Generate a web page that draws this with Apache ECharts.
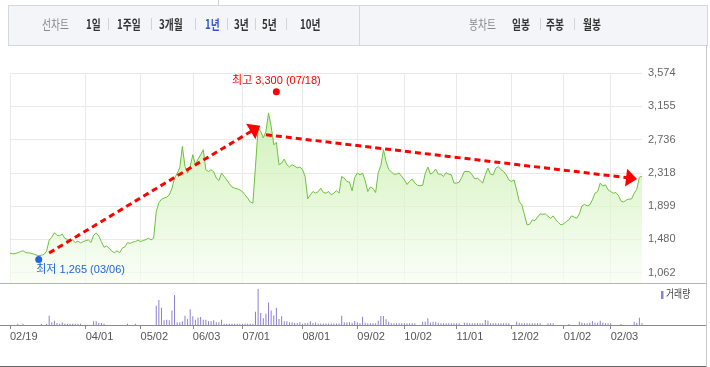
<!DOCTYPE html>
<html>
<head>
<meta charset="utf-8">
<script src="https://cdn.jsdelivr.net/npm/echarts@6/dist/echarts.min.js"></script>
<style>
body{margin:0;width:710px;height:367px;overflow:hidden;background:#fff;position:relative;font-family:'Noto Sans CJK KR',sans-serif}
#chart{position:absolute;left:0;top:0;width:710px;height:367px}
#tabs{position:absolute;left:8px;top:5px;width:698px;height:39px;background:#f4f5f8;border:1px solid #d6d8dd;z-index:2}
.t{position:absolute;top:4px;height:40px;line-height:40px;font-size:13px;white-space:nowrap;transform:scaleX(0.75);transform-origin:left center;color:#333;font-weight:bold;z-index:3}
.g{color:#888;font-weight:normal}
.on{color:#3355cc}
.sep{position:absolute;top:18px;width:1px;height:12px;background:#d4d4d4;z-index:3}
.ln{position:absolute;z-index:3}
</style>
</head>
<body>
<div id="chart"></div>
<div class="ln" style="left:218px;top:0;width:1px;height:5px;background:#cfcfcf"></div>
<div id="tabs"></div>
<div class="t g" style="left:42px">선차트</div>
<div class="t" style="left:86px">1일</div>
<div class="sep" style="left:108px"></div>
<div class="t" style="left:117px">1주일</div>
<div class="sep" style="left:151px"></div>
<div class="t" style="left:159px">3개월</div>
<div class="sep" style="left:195px"></div>
<div class="t on" style="left:205px">1년</div>
<div class="sep" style="left:227px"></div>
<div class="t" style="left:234px">3년</div>
<div class="sep" style="left:255px"></div>
<div class="t" style="left:262px">5년</div>
<div class="sep" style="left:286px"></div>
<div class="t" style="left:300px">10년</div>
<div class="ln" style="left:359px;top:6px;width:1px;height:39px;background:#d6d8dd"></div>
<div class="t g" style="left:469px">봉차트</div>
<div class="t" style="left:512px">일봉</div>
<div class="sep" style="left:540px"></div>
<div class="t" style="left:546px">주봉</div>
<div class="sep" style="left:574px"></div>
<div class="t" style="left:583px">월봉</div>
<!-- frame lines -->
<div class="ln" style="left:0;top:283px;width:706px;height:1px;background:#b4b4b4"></div>
<div class="ln" style="left:0;top:325px;width:706px;height:1px;background:#8a8a8a"></div>
<div class="ln" style="left:0;top:366px;width:706px;height:1px;background:#666"></div>
<div class="ln" style="left:706px;top:45px;width:1px;height:322px;background:#c6c6c6"></div>
<script>
// x축 날짜 (거래일 인덱스 기준)
var tickIndex = [0, 29, 50, 70, 89, 112, 133, 151, 171, 192, 212, 230];
var tickDates = ['02/19', '04/01', '05/02', '06/03', '07/01', '08/01', '09/02', '10/02', '11/01', '12/02', '01/02', '02/03'];
var priceTicks = [1062, 1480, 1899, 2318, 2736, 3155, 3574];

// 종가
var closePrice = [
	1304,1298,1300,1312,1325,1337,1312,1310,1304,1295,
	1283,1274,1280,1290,1330,1470,1505,1564,1530,1525,
	1545,1490,1480,1460,1472,1440,1455,1435,1450,1463,
	1472,1440,1530,1560,1520,1450,1380,1396,1367,1330,
	1312,1335,1312,1370,1385,1438,1430,1445,1451,1470,
	1451,1465,1475,1494,1472,1494,1830,1940,1986,2000,
	2010,2040,2120,2250,2310,2380,2650,2397,2314,2400,
	2545,2420,2490,2545,2608,2356,2335,2356,2330,2251,
	2220,2314,2271,2229,2180,2140,2124,2115,2103,2080,
	2040,1998,1950,1935,2400,2880,2839,2756,2839,3071,
	2902,2671,2700,2420,2440,2490,2420,2390,2420,2400,
	2380,2390,2360,2271,1990,2040,2082,2061,2080,2124,
	2070,2061,2082,2040,2060,2094,2061,2271,2250,2208,
	2200,2090,2260,2314,2292,2314,2220,2082,2138,2120,
	2069,2320,2406,2608,2460,2360,2330,2300,2300,2314,
	2271,2229,2170,2210,2238,2190,2160,2154,2160,2310,
	2390,2300,2320,2364,2300,2300,2271,2320,2300,2292,
	2188,2188,2200,2260,2335,2335,2330,2290,2240,2250,
	2220,2188,2292,2376,2300,2290,2376,2397,2356,2335,
	2292,2229,2208,2229,2100,1955,1914,1788,1661,1670,
	1725,1716,1760,1800,1795,1800,1770,1746,1775,1725,
	1690,1661,1675,1703,1725,1775,1760,1746,1800,1900,
	1920,1901,1914,1977,2061,2080,2188,2150,2166,2103,
	2082,2060,2070,2030,1960,1950,1975,1986,1988,2060,
	2110,2260,2275
];

// 거래량
var volume = [
	0,0,0,130,0,130,0,0,0,0,
	0,0,130,0,130,930,270,430,200,130,
	270,130,130,130,130,130,130,130,0,0,
	0,0,370,370,200,200,130,0,0,0,
	0,0,0,0,0,130,0,0,130,0,
	0,0,0,0,0,0,1930,2530,1730,470,
	530,470,1470,3030,270,270,370,930,600,1600,
	870,530,730,800,530,530,370,370,470,270,
	270,530,130,130,130,130,130,130,130,130,
	130,130,130,130,1330,3630,1200,670,1130,2270,
	1470,970,1730,600,870,370,370,270,270,200,
	200,270,130,200,200,370,200,270,150,150,
	150,150,150,150,150,150,150,930,270,270,
	270,200,400,270,170,830,230,170,170,170,
	170,430,900,900,570,330,170,170,170,170,
	170,170,170,170,170,170,0,0,330,330,
	670,230,330,330,230,170,170,170,170,170,
	170,170,170,0,230,230,170,170,170,170,
	170,170,500,430,170,170,170,170,170,170,
	170,170,0,0,330,230,170,170,170,170,
	170,170,170,170,0,0,170,170,170,0,
	0,0,0,0,100,0,0,0,330,230,
	170,170,230,400,230,230,430,230,170,170,
	170,0,0,0,100,0,0,0,0,330,
	230,730,170
];

var highPoint = [102, 3300, '07/18'];
var lowPoint = [11, 1265, '03/06'];
// 추세 화살표 [인덱스, 가격]
var trendUp = [[14.55, 1308], [93.8, 2873]];
var trendDown = [[98.0, 2797], [238.4, 2249]];

var days = closePrice.map(function (v, i) { return i; });

function isTick(idx) {
	return tickIndex.indexOf(idx) >= 0;
}
function comma(v) {
	return String(v).replace(/\B(?=(\d{3})+(?!\d))/g, ',');
}

var chart = echarts.init(document.getElementById('chart'));
var option = {
	animation: false,
	grid: [
		{ left: 10, right: 68, top: 73, bottom: 84 },
		{ left: 10, right: 68, top: 289, bottom: 42 }
	],
	xAxis: [
		{
			type: 'category',
			gridIndex: 0,
			data: days,
			boundaryGap: false,
			axisLine: { show: false },
			axisTick: { show: false },
			axisLabel: { show: false },
			splitLine: { show: true, interval: isTick, lineStyle: { color: '#e9e9e9' } }
		},
		{
			type: 'category',
			gridIndex: 1,
			data: days,
			boundaryGap: false,
			axisLine: { show: false },
			axisTick: { show: true, interval: isTick, length: 4, lineStyle: { color: '#888' } },
			axisLabel: {
				interval: isTick,
				formatter: function (v, idx) { return tickDates[tickIndex.indexOf(idx)]; },
				align: 'left',
				margin: 6,
				fontSize: 11,
				color: '#555',
				fontFamily: 'Liberation Sans'
			},
			splitLine: { show: false }
		}
	],
	yAxis: [
		{
			type: 'value',
			gridIndex: 0,
			position: 'right',
			min: 930,
			max: 3574,
			axisLine: { show: false },
			axisTick: { show: false, customValues: priceTicks },
			axisLabel: {
				customValues: priceTicks,
				formatter: function (v) { return comma(v); },
				margin: 6,
				fontSize: 11,
				color: '#666',
				fontFamily: 'Liberation Sans'
			},
			splitLine: { show: true, lineStyle: { color: '#e9e9e9' } }
		},
		{ type: 'value', gridIndex: 1, min: 0, max: 3630, show: false }
	],
	series: [
		{
			type: 'line',
			xAxisIndex: 0,
			yAxisIndex: 0,
			data: closePrice,
			symbol: 'none',
			lineStyle: { color: '#6cc13e', width: 1 },
			areaStyle: {
				origin: 'start',
				color: new echarts.graphic.LinearGradient(0, 0, 0, 1, [
					{ offset: 0, color: '#bdeb9b' },
					{ offset: 1, color: '#f7fdf3' }
				])
			},
			markPoint: {
				silent: true,
				data: [
					{
						coord: [highPoint[0], highPoint[1]],
						symbol: 'circle',
						symbolSize: 7,
						symbolOffset: [0, -3],
						itemStyle: { color: '#ff0000' },
						label: {
							show: true,
							position: 'top',
							distance: 2,
							formatter: '최고 ' + comma(highPoint[1]) + ' (' + highPoint[2] + ')',
							color: '#ff0000',
							fontSize: 11,
							fontFamily: "'Liberation Sans','Noto Sans CJK KR'"
						}
					},
					{
						coord: [lowPoint[0], lowPoint[1]],
						symbol: 'circle',
						symbolSize: 7,
						symbolOffset: [0, 3],
						itemStyle: { color: '#2266dd' },
						label: {
							show: true,
							position: [1, 9],
							formatter: '최저 ' + comma(lowPoint[1]) + ' (' + lowPoint[2] + ')',
							color: '#2266dd',
							fontSize: 11,
							fontFamily: "'Liberation Sans','Noto Sans CJK KR'"
						}
					}
				]
			},
			markLine: {
				silent: true,
				z: 5,
				symbol: ['none', 'triangle'],
				symbolSize: [18, 11],
				label: { show: false },
				lineStyle: { color: '#ff0000', width: 3, type: [6, 4], opacity: 1 },
				emphasis: { disabled: true },
				data: [
					[{ coord: trendUp[0] }, { coord: trendUp[1] }],
					[{ coord: trendDown[0] }, { coord: trendDown[1] }]
				]
			}
		},
		{
			type: 'bar',
			xAxisIndex: 1,
			yAxisIndex: 1,
			data: volume,
			barWidth: 1,
			itemStyle: { color: '#8e7fd0' }
		}
	],
	graphic: [
		{ type: 'rect', left: 661, top: 291, shape: { width: 2.5, height: 8 }, style: { fill: '#8e7fd0' } },
		{ type: 'text', left: 666, top: 288, scaleX: 0.8, style: { text: '거래량', fontSize: 11, fill: '#444', fontFamily: 'Noto Sans CJK KR' } }
	]
};
chart.setOption(option);
</script>
</body>
</html>
